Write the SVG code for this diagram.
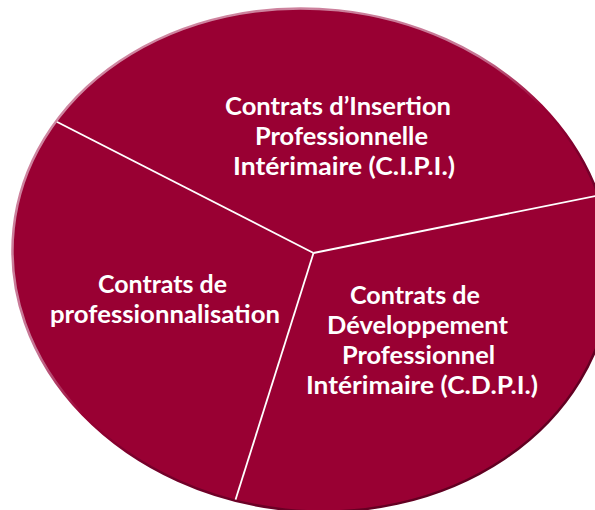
<svg xmlns="http://www.w3.org/2000/svg" width="595" height="510" viewBox="0 0 595 510">
  <defs>
    <linearGradient id="rim" x1="0" y1="0" x2="1" y2="1">
      <stop offset="0" stop-color="#d590a8"/>
      <stop offset="0.40" stop-color="#c67594"/>
      <stop offset="0.50" stop-color="#990033"/>
      <stop offset="0.60" stop-color="#75002a"/>
      <stop offset="1" stop-color="#55001c"/>
    </linearGradient>
    <clipPath id="pieClip">
      <ellipse cx="312" cy="260" rx="299" ry="250" transform="rotate(6 312 260)"/>
    </clipPath>
  </defs>
  <style>
    .pie { fill: #990033; stroke: url(#rim); stroke-width: 2.5; }
    .div { stroke: #ffffff; stroke-width: 1.8; fill: none; }
    .lbl { font-family: Lato, "Open Sans", "Liberation Sans", sans-serif; font-weight: bold; font-size: 24px; fill: #ffffff; text-anchor: middle; }
  </style>
  <rect width="595" height="510" fill="#ffffff"/>
  <g id="pie">
    <ellipse class="pie" cx="312" cy="260" rx="300" ry="251" transform="rotate(6 312 260)"/>
  </g>
  <g id="connectors" clip-path="url(#pieClip)">
    <line class="div" x1="313.5" y1="253" x2="20" y2="103"/>
    <line class="div" x1="313.5" y1="253" x2="640" y2="187"/>
    <line class="div" x1="313.5" y1="253" x2="225" y2="533"/>
  </g>
  <g id="cipi">
    <text class="lbl" x="338" y="115" textLength="226" lengthAdjust="spacingAndGlyphs">Contrats d’Insertion</text>
    <text class="lbl" x="341.5" y="145" textLength="173" lengthAdjust="spacingAndGlyphs">Professionnelle</text>
    <text class="lbl" x="344" y="175" textLength="222" lengthAdjust="spacingAndGlyphs">Intérimaire (C.I.P.I.)</text>
  </g>
  <g id="professionnalisation">
    <text class="lbl" x="162.5" y="293" textLength="129" lengthAdjust="spacingAndGlyphs">Contrats de</text>
    <text class="lbl" x="165" y="323" textLength="230" lengthAdjust="spacingAndGlyphs">professionnalisation</text>
  </g>
  <g id="cdpi">
    <text class="lbl" x="415" y="304" textLength="130" lengthAdjust="spacingAndGlyphs">Contrats de</text>
    <text class="lbl" x="417.5" y="334" textLength="181" lengthAdjust="spacingAndGlyphs">Développement</text>
    <text class="lbl" x="418.5" y="364" textLength="153" lengthAdjust="spacingAndGlyphs">Professionnel</text>
    <text class="lbl" x="422" y="394" textLength="232" lengthAdjust="spacingAndGlyphs">Intérimaire (C.D.P.I.)</text>
  </g>
</svg>
